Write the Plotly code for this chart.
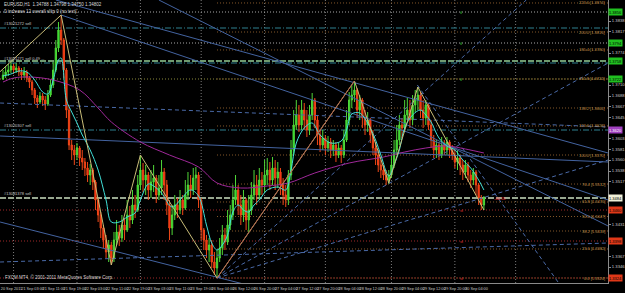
import plotly.graph_objects as go

# ---------------- data (EURUSD H1) ----------------
open_first = 1.3722
close = [1.3730,1.3736,1.3740,1.3748,1.3740,1.3744,1.3736,1.3730,1.3736,1.3724,
         1.3716,1.3700,1.3684,1.3676,1.3688,1.3680,1.3672,1.3690,1.3710,1.3740,
         1.3784,1.3820,1.3800,1.3740,1.3660,1.3590,1.3580,1.3570,1.3584,1.3564,
         1.3556,1.3544,1.3530,1.3540,1.3516,1.3480,1.3450,1.3424,1.3400,1.3376,
         1.3390,1.3364,1.3400,1.3416,1.3404,1.3430,1.3420,1.3450,1.3440,1.3470,
         1.3460,1.3510,1.3540,1.3520,1.3530,1.3500,1.3516,1.3524,1.3490,1.3504,
         1.3536,1.3510,1.3470,1.3424,1.3450,1.3470,1.3460,1.3480,1.3464,1.3490,
         1.3510,1.3500,1.3524,1.3530,1.3480,1.3420,1.3400,1.3380,1.3390,1.3356,
         1.3344,1.3364,1.3384,1.3410,1.3396,1.3430,1.3450,1.3480,1.3500,1.3470,
         1.3450,1.3480,1.3440,1.3460,1.3490,1.3510,1.3490,1.3520,1.3510,1.3530,
         1.3540,1.3520,1.3544,1.3524,1.3536,1.3510,1.3490,1.3480,1.3530,1.3580,
         1.3630,1.3650,1.3630,1.3660,1.3640,1.3620,1.3650,1.3680,1.3640,1.3610,
         1.3590,1.3604,1.3584,1.3596,1.3580,1.3590,1.3570,1.3584,1.3570,1.3600,
         1.3640,1.3680,1.3690,1.3700,1.3660,1.3680,1.3644,1.3630,1.3640,1.3610,
         1.3584,1.3570,1.3550,1.3540,1.3530,1.3520,1.3530,1.3550,1.3580,1.3600,
         1.3630,1.3624,1.3650,1.3660,1.3640,1.3670,1.3680,1.3690,1.3660,1.3644,
         1.3670,1.3630,1.3600,1.3580,1.3590,1.3570,1.3590,1.3580,1.3596,1.3580,
         1.3570,1.3556,1.3564,1.3550,1.3536,1.3550,1.3530,1.3520,1.3536,1.3510,
         1.3484,1.3470,1.3484]
high = [1.3740,1.3748,1.3752,1.3756,1.3752,1.3754,1.3748,1.3744,1.3746,1.3740,
        1.3728,1.3720,1.3704,1.3690,1.3696,1.3694,1.3688,1.3700,1.3720,1.3756,
        1.3800,1.3836,1.3850,1.3804,1.3744,1.3670,1.3600,1.3590,1.3594,1.3588,
        1.3580,1.3564,1.3556,1.3552,1.3544,1.3520,1.3484,1.3456,1.3430,1.3410,
        1.3400,1.3396,1.3416,1.3440,1.3430,1.3450,1.3444,1.3480,1.3468,1.3500,
        1.3490,1.3530,1.3570,1.3554,1.3550,1.3536,1.3540,1.3550,1.3530,1.3530,
        1.3560,1.3544,1.3520,1.3480,1.3470,1.3490,1.3484,1.3500,1.3490,1.3520,
        1.3536,1.3530,1.3544,1.3546,1.3536,1.3484,1.3424,1.3410,1.3404,1.3400,
        1.3376,1.3380,1.3404,1.3430,1.3424,1.3460,1.3470,1.3510,1.3530,1.3510,
        1.3490,1.3500,1.3484,1.3490,1.3516,1.3540,1.3530,1.3544,1.3536,1.3560,
        1.3564,1.3556,1.3566,1.3560,1.3556,1.3544,1.3524,1.3510,1.3540,1.3600,
        1.3660,1.3680,1.3670,1.3680,1.3674,1.3660,1.3670,1.3694,1.3684,1.3650,
        1.3620,1.3620,1.3610,1.3608,1.3604,1.3600,1.3596,1.3594,1.3590,1.3620,
        1.3660,1.3696,1.3710,1.3718,1.3704,1.3690,1.3684,1.3660,1.3656,1.3644,
        1.3620,1.3596,1.3580,1.3560,1.3550,1.3540,1.3540,1.3570,1.3600,1.3630,
        1.3650,1.3644,1.3680,1.3684,1.3680,1.3690,1.3700,1.3706,1.3696,1.3680,
        1.3680,1.3674,1.3640,1.3610,1.3600,1.3596,1.3606,1.3600,1.3606,1.3600,
        1.3590,1.3584,1.3580,1.3570,1.3560,1.3560,1.3556,1.3540,1.3544,1.3540,
        1.3514,1.3490,1.3488]
low = [1.3720,1.3724,1.3728,1.3734,1.3732,1.3734,1.3728,1.3720,1.3724,1.3716,
       1.3704,1.3690,1.3672,1.3664,1.3672,1.3668,1.3660,1.3668,1.3686,1.3704,
       1.3736,1.3776,1.3790,1.3724,1.3644,1.3580,1.3560,1.3550,1.3560,1.3548,
       1.3540,1.3528,1.3516,1.3510,1.3500,1.3460,1.3436,1.3404,1.3384,1.3364,
       1.3356,1.3350,1.3356,1.3390,1.3388,1.3396,1.3400,1.3416,1.3424,1.3432,
       1.3444,1.3456,1.3500,1.3496,1.3490,1.3480,1.3484,1.3496,1.3474,1.3480,
       1.3490,1.3480,1.3450,1.3400,1.3410,1.3440,1.3444,1.3452,1.3450,1.3460,
       1.3480,1.3484,1.3490,1.3500,1.3464,1.3400,1.3380,1.3364,1.3356,1.3344,
       1.3330,1.3324,1.3356,1.3370,1.3380,1.3390,1.3420,1.3440,1.3470,1.3450,
       1.3430,1.3436,1.3420,1.3416,1.3450,1.3480,1.3470,1.3480,1.3490,1.3496,
       1.3510,1.3500,1.3510,1.3500,1.3504,1.3490,1.3470,1.3466,1.3470,1.3520,
       1.3570,1.3620,1.3616,1.3620,1.3620,1.3606,1.3610,1.3640,1.3624,1.3590,
       1.3576,1.3580,1.3570,1.3576,1.3564,1.3568,1.3556,1.3564,1.3554,1.3564,
       1.3596,1.3630,1.3664,1.3676,1.3644,1.3640,1.3624,1.3610,1.3616,1.3594,
       1.3570,1.3550,1.3536,1.3524,1.3520,1.3510,1.3512,1.3524,1.3544,1.3570,
       1.3590,1.3604,1.3616,1.3640,1.3624,1.3630,1.3656,1.3660,1.3644,1.3624,
       1.3630,1.3620,1.3584,1.3564,1.3564,1.3560,1.3564,1.3570,1.3570,1.3564,
       1.3560,1.3544,1.3540,1.3530,1.3520,1.3524,1.3516,1.3504,1.3510,1.3490,
       1.3470,1.3460,1.3460]
opens = [open_first] + close[:-1]
bars = list(range(len(close)))

time_label_bars = [0, 8, 16, 24, 32, 40, 48, 56, 64, 72, 80, 88, 96, 104, 112,
                   120, 128, 136, 144, 152, 160, 168, 176]
time_labels = ["20 Sep 2011", "21 Sep 03:00", "21 Sep 11:00", "21 Sep 19:00",
               "22 Sep 03:00", "22 Sep 11:00", "22 Sep 19:00", "23 Sep 03:00",
               "23 Sep 11:00", "23 Sep 19:00", "26 Sep 04:00", "26 Sep 12:00",
               "26 Sep 20:00", "27 Sep 04:00", "27 Sep 12:00", "27 Sep 20:00",
               "28 Sep 04:00", "28 Sep 12:00", "28 Sep 20:00", "29 Sep 04:00",
               "29 Sep 12:00", "29 Sep 20:00", "30 Sep 04:00"]
price_ticks = [1.3859, 1.3838, 1.3817, 1.3795, 1.3774, 1.3752, 1.3731, 1.3710,
               1.3688, 1.3667, 1.3645, 1.3624, 1.3603, 1.3581, 1.3560, 1.3538,
               1.3517, 1.3496, 1.3474, 1.3453, 1.3431, 1.3410, 1.3389, 1.3367,
               1.3346, 1.3324]
grid_bars = [4, 28, 52, 75, 99, 122, 147, 171, 194]

ma_fast_bars = [0,3,6,9,12,15,17,19,21,22,24,26,28,30,33,36,39,41,44,47,50,52,55,57,
                60,64,68,71,74,77,79,81,83,85,87,89,91,93,95,97,100,104,107,109,111,
                114,117,120,124,128,130,132,135,138,141,143,146,148,150,152,155,158,
                160,162,165,168,171,174,177,180,182]
ma_fast = [1.3728,1.3732,1.3738,1.3736,1.3720,1.3696,1.3692,1.3720,1.3760,1.3764,
           1.3680,1.3656,1.3634,1.3610,1.3580,1.3540,1.3480,1.3436,1.3436,1.3446,
           1.3454,1.3480,1.3512,1.3508,1.3494,1.3466,1.3486,1.3500,1.3488,1.3430,
           1.3394,1.3380,1.3390,1.3410,1.3456,1.3470,1.3460,1.3456,1.3470,1.3480,
           1.3500,1.3506,1.3500,1.3540,1.3594,1.3624,1.3634,1.3610,1.3594,1.3598,
           1.3620,1.3652,1.3654,1.3634,1.3600,1.3570,1.3528,1.3550,1.3580,1.3624,
           1.3650,1.3660,1.3650,1.3636,1.3604,1.3588,1.3580,1.3560,1.3544,1.3520,
           1.3500]
ma_slow_bars = [0,4,10,19,29,36,41,52,63,74,81,90,100,108,118,131,144,152,160,168,175,182]
ma_slow = [1.3716,1.3724,1.3726,1.3720,1.3700,1.3664,1.3636,1.3596,1.3570,1.3546,
           1.3514,1.3504,1.3508,1.3514,1.3534,1.3554,1.3566,1.3576,1.3584,1.3588,
           1.3582,1.3574]
zz_bars = [-10, 22, 41, 52, 81, 133, 146, 157, 182]
zz_price = [1.3693, 1.3850, 1.3350, 1.3570, 1.3324, 1.3718, 1.3514, 1.3706, 1.3460]

fib_low, fib_high, fib_start_bar = 1.3324, 1.3570, 81
fib_levels = [0.0, 23.6, 38.2, 50.0, 61.8, 76.4, 100.0, 123.6, 138.2, 161.8, 185.4, 200.0, 223.6]

# trend lines: (bar0, price0, bar1, price1)
trend_solid = [(20, 1.3880, 229, 1.3574), (22, 1.3850, 229, 1.3480),
               (59, 1.3880, 229, 1.3428), (-1.1, 1.3608, 229, 1.3556),
               (-1.1, 1.3436, 97, 1.3304)]
trend_dashed = [(-1.1, 1.3674, 229, 1.3626), (-1.1, 1.3356, 229, 1.3394),
                (81, 1.3324, 198, 1.3880), (81, 1.3324, 229, 1.3754),
                (81, 1.3324, 229, 1.3560), (156.8, 1.3710, 213, 1.3294)]

# horizontal order / level lines
hl_prices = [1.3856, 1.3824, 1.3794, 1.3758, 1.3754, 1.3722, 1.3620, 1.3484, 1.3460, 1.3398, 1.3324]
hl_kinds = ["grey", "teal", "grey", "green", "teal", "olive", "teal", "bid", "red", "red", "red"]
box_prices = [1.3856, 1.3794, 1.3758, 1.3722, 1.3620, 1.3484, 1.3460, 1.3398, 1.3324]
box_kinds = ["green", "green", "green", "green", "purple", "bid", "red", "red", "red"]
order_label_prices = [1.3824, 1.3754, 1.3620, 1.3484]
order_labels = ["#13021272 sell", "#13021271 sell 0.49 ...", "#13020307 sell", "#13081378 sell"]
tl_prices = [1.3856, 1.3794, 1.3722]
sl_prices = [1.3460, 1.3398, 1.3324]

# ---------------- figure ----------------
X_RANGE = [-1.13, 228.95]
Y_RANGE = [1.3314, 1.3880]
FONT = "Liberation Sans, Arial, sans-serif"

fig = go.Figure()
shapes = []
for b in grid_bars:
    shapes.append(dict(type="line", xref="x", yref="paper", x0=b, x1=b, y0=0, y1=1,
                       line=dict(color="#7a7a7a", width=1, dash="1px,2px"), layer="below"))

line_styles = {
    "grey": dict(color="#a8a8a8", width=1, dash="1px,2px"),
    "teal": dict(color="#2e8090", width=1, dash="6px,2px,1px,2px"),
    "green": dict(color="#6f9a6f", width=2, dash="6px,2px"),
    "olive": dict(color="#8a8a3a", width=1, dash="1px,2px"),
    "bid": dict(color="#98a890", width=2, dash="6px,2px"),
    "red": dict(color="#a02828", width=1, dash="1px,2px"),
}
for p, k in zip(hl_prices, hl_kinds):
    shapes.append(dict(type="line", xref="paper", yref="y", x0=0, x1=1, y0=p, y1=p,
                       line=line_styles[k], layer="below"))

fib_prices = [fib_low + lv / 100.0 * (fib_high - fib_low) for lv in fib_levels]
for p in fib_prices:
    shapes.append(dict(type="line", xref="x", yref="y", x0=fib_start_bar, x1=X_RANGE[1], y0=p, y1=p,
                       line=dict(color="#85582a", width=1, dash="1px,2px"), layer="below"))

for (b0, p0, b1, p1) in trend_solid:
    fig.add_trace(go.Scatter(x=[b0, b1], y=[p0, p1], mode="lines",
                             line=dict(color="#4363a0", width=1), hoverinfo="skip"))
for (b0, p0, b1, p1) in trend_dashed:
    fig.add_trace(go.Scatter(x=[b0, b1], y=[p0, p1], mode="lines",
                             line=dict(color="#4a6aa8", width=1, dash="4px,3px"), hoverinfo="skip"))

fig.add_trace(go.Scatter(x=ma_slow_bars, y=ma_slow, mode="lines", line_shape="spline",
                         line=dict(color="#a0289a", width=1), hoverinfo="skip"))

fig.add_trace(go.Candlestick(
    x=bars, open=opens, high=high, low=low, close=close, whiskerwidth=0,
    increasing=dict(line=dict(color="#50d838", width=1), fillcolor="#20e030"),
    decreasing=dict(line=dict(color="#f04818", width=1), fillcolor="#ff2010"),
    hoverinfo="skip"))

fig.add_trace(go.Scatter(x=ma_fast_bars, y=ma_fast, mode="lines", line_shape="spline",
                         line=dict(color="#40e0d8", width=1), hoverinfo="skip"))

fig.add_trace(go.Scatter(x=zz_bars, y=zz_price, mode="lines",
                         line=dict(color="#c8bc78", width=1), hoverinfo="skip"))
fig.add_trace(go.Scatter(x=zz_bars[4:6], y=zz_price[4:6], mode="lines",
                         line=dict(color="#b0604a", width=1), hoverinfo="skip"))

ann = []
small = dict(family=FONT, size=4.5, color="#d8d8d8")
ann.append(dict(xref="paper", yref="paper", x=0.003, y=1.0, xanchor="left", yanchor="top",
                text="EURUSD,H1  1.34788 1.34798 1.34750 1.34802", showarrow=False, font=small))
ann.append(dict(xref="paper", yref="paper", x=0.003, y=0.975, xanchor="left", yanchor="top",
                text="0 increase 12 overall sl/tp 0 (no text)", showarrow=False, font=small))
ann.append(dict(xref="paper", yref="paper", x=0.005, y=0.022, xanchor="left", yanchor="middle",
                text="FXCM MT4, © 2001-2011 MetaQuotes Software Corp.", showarrow=False, font=small))
for p, t in zip(order_label_prices, order_labels):
    ann.append(dict(xref="paper", yref="y", x=0.004, y=p, xanchor="left", yanchor="bottom",
                    text=t, showarrow=False, font=dict(family=FONT, size=4, color="#c8c8c8")))
for lv, p in zip(fib_levels, fib_prices):
    ann.append(dict(xref="x", yref="y", x=228.3, y=p, xanchor="right", yanchor="middle",
                    text=f"{lv:.1f} [{p:.4f}]", showarrow=False, borderpad=0,
                    font=dict(family=FONT, size=4, color="#c0924a")))
for p in tl_prices:
    ann.append(dict(xref="x", yref="y", x=172, y=p, xanchor="left", yanchor="middle", text="tl",
                    showarrow=False, font=dict(family=FONT, size=4, color="#40d040")))
for p in sl_prices:
    ann.append(dict(xref="x", yref="y", x=172, y=p, xanchor="left", yanchor="middle", text="sl",
                    showarrow=False, font=dict(family=FONT, size=4, color="#e03030")))
ann.append(dict(xref="x", yref="y", x=185, y=close[-1], xanchor="left", yanchor="middle",
                text="-40.55", showarrow=False, font=dict(family=FONT, size=4, color="#ff3030")))
box_colors = {"green": ("#20c020", "#000000"), "purple": ("#a040c0", "#ffffff"),
              "bid": ("#f0f0d8", "#000000"), "red": ("#e03818", "#000000")}
for p, k in zip(box_prices, box_kinds):
    bg, fg = box_colors[k]
    ann.append(dict(xref="paper", yref="y", x=1.0, y=p, xanchor="left", yanchor="middle",
                    text=f"{p:.4f}", showarrow=False, bgcolor=bg, borderpad=0, width=13, height=6,
                    font=dict(family=FONT, size=4, color=fg)))

# price labels hidden behind the coloured price boxes are not drawn
shown_ticks = [v for v in price_ticks if min(abs(v - b) for b in box_prices) > 0.0012]

fig.update_layout(
    width=625, height=293, margin=dict(l=0, r=13, t=0, b=10),
    paper_bgcolor="#000000", plot_bgcolor="#000000", showlegend=False,
    shapes=shapes, annotations=ann,
    xaxis=dict(range=X_RANGE, rangeslider=dict(visible=False), showgrid=False, zeroline=False,
               tickmode="array", tickvals=[b + 3.2 for b in time_label_bars], ticktext=time_labels,
               tickangle=0, tickfont=dict(family=FONT, size=3.8, color="#c8c8c8"),
               showline=True, linecolor="#8a8a8a", linewidth=1, ticks="", ticklabelstandoff=1),
    yaxis=dict(range=Y_RANGE, side="right", showgrid=False, zeroline=False,
               tickmode="array", tickvals=shown_ticks, ticktext=[f"{v:.4f}" for v in shown_ticks],
               tickfont=dict(family=FONT, size=4.2, color="#c8c8c8"),
               showline=True, linecolor="#8a8a8a", linewidth=1, ticks="outside", ticklen=2,
               tickcolor="#8a8a8a"),
)
fig.write_html("out.html")
